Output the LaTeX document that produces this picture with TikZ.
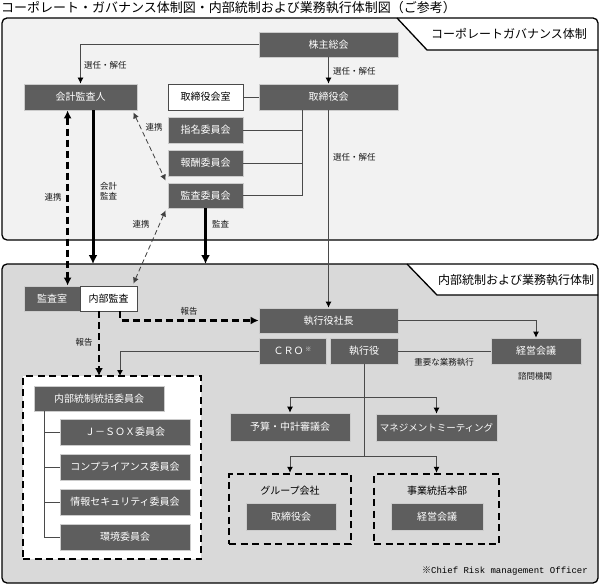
\documentclass[tikz,border=0pt]{standalone}
\usepackage{fontspec}
\setmainfont{Noto Sans CJK JP}
\newfontfamily\monofont{Liberation Mono}
\usepackage{tikz}
\usetikzlibrary{arrows.meta}
\definecolor{boxgray}{HTML}{5E5E5E}
\definecolor{topbg}{HTML}{F2F2F2}
\definecolor{lowbg}{HTML}{D9D9D9}
\definecolor{linegray}{HTML}{4A4A4A}
\tikzstyle{kbox}=[
        rectangle,
        draw=black!20,
        line width=0.8pt,
        fill=boxgray,
        text=white,
        inner sep=0pt,
        font=\fontsize{10}{12}\selectfont
]
\tikzstyle{wbox}=[rectangle,draw=linegray,line width=0.8pt,fill=white,text=black,inner sep=0pt,font=\fontsize{10}{12}\selectfont]
\tikzstyle{lbl}=[inner sep=0pt,text=black!90,font=\fontsize{8.5}{10}\selectfont]
\tikzstyle{ptitle}=[inner sep=0pt,font=\fontsize{12}{14}\selectfont]
\tikzstyle{ligne}=[draw=linegray,line width=0.8pt]
\tikzstyle{suite}=[-{Latex[length=6pt,width=6pt,color=black]},draw=linegray,line width=0.8pt]
\tikzstyle{audit}=[-{Latex[length=9pt,width=9pt]},line width=3pt]
\tikzstyle{renkei}=[{Latex[length=6pt,width=6pt]}-{Latex[length=6pt,width=6pt]},draw=black!75,line width=0.8pt,dash pattern=on 5pt off 3pt]
\tikzstyle{renkeib}=[{Latex[length=8pt,width=8pt]}-{Latex[length=8pt,width=8pt]},line width=2.5pt,dash pattern=on 7pt off 4pt]
\tikzstyle{hokoku}=[-{Latex[length=8pt,width=8pt]},line width=2.5pt,dash pattern=on 7pt off 4pt]
\tikzstyle{groupe}=[draw,line width=2.5pt,dash pattern=on 7pt off 4.5pt,inner sep=0pt]
\begin{document}
\begin{tikzpicture}[x=1pt,y=-1pt]
\useasboundingbox (0,0) rectangle (601,585);
\node[anchor=west,inner sep=0pt,font=\fontsize{13}{15}\selectfont] (titre) at (1,8) {コーポレート・ガバナンス体制図・内部統制および業務執行体制図（ご参考）};
%panneaux
\fill[topbg,rounded corners=5pt] (2,18) rectangle (598,240);
\fill[white] (397,18) -- (427,50) -- (598,50) -- (598,18) -- cycle;
\draw[line width=1.3pt,rounded corners=5pt] (2,18) rectangle (598,240);
\draw[line width=1.3pt] (397,18) -- (427,50) -- (598,50);
\node[ptitle] (gouv) at (509,34) {コーポレートガバナンス体制};
\fill[lowbg,rounded corners=5pt] (2,264) rectangle (598,583);
\fill[white] (407,264) -- (437,295) -- (598,295) -- (598,264) -- cycle;
\draw[line width=1.3pt,rounded corners=5pt] (2,264) rectangle (598,583);
\draw[line width=1.3pt] (407,264) -- (437,295) -- (598,295);
\node[ptitle] (interne) at (516,280) {内部統制および業務執行体制};
%gouvernance
\node[kbox,minimum width=139pt,minimum height=25pt] (kabu) at (328.5,44.5) {株主総会};
\node[kbox,minimum width=139pt,minimum height=26pt] (tori) at (328.5,97) {取締役会};
\node[wbox,minimum width=75pt,minimum height=26pt] (torishitsu) at (205.5,97) {取締役会室};
\node[kbox,minimum width=75pt,minimum height=26pt] (shimei) at (205.5,130) {指名委員会};
\node[kbox,minimum width=75pt,minimum height=26pt] (hoshu) at (205.5,163) {報酬委員会};
\node[kbox,minimum width=75pt,minimum height=25pt] (kansaiin) at (205.5,195.5) {監査委員会};
\node[kbox,minimum width=113pt,minimum height=26pt] (kaikei) at (80.5,97) {会計監査人};
%controle interne
\node[kbox,minimum width=56pt,minimum height=25pt] (kansashitsu) at (52,298.5) {監査室};
\node[wbox,minimum width=57pt,minimum height=25pt] (naibu) at (108.5,298.5) {内部監査};
\node[kbox,minimum width=139pt,minimum height=25pt] (shacho) at (328.5,320.5) {執行役社長};
\node[kbox,minimum width=67pt,minimum height=26pt] (cro) at (292.5,351) {ＣＲＯ\,\raisebox{3pt}{\fontsize{6}{6}\selectfont ※}};
\node[kbox,minimum width=68pt,minimum height=26pt] (shikko) at (364,351) {執行役};
\node[kbox,minimum width=90pt,minimum height=26pt] (keiei) at (536,351) {経営会議};
\node[lbl] (shimon) at (535,376) {諮問機関};
\node[groupe,fill=white,minimum width=178pt,minimum height=183pt] (tosei) at (112,467.5) {};
\node[kbox,minimum width=130pt,minimum height=25pt] (tokatsu) at (99,398.5) {内部統制統括委員会};
\node[kbox,minimum width=130pt,minimum height=26pt] (jsox) at (125,432) {Ｊ－ＳＯＸ委員会};
\node[kbox,minimum width=130pt,minimum height=26pt] (compl) at (125,467) {コンプライアンス委員会};
\node[kbox,minimum width=130pt,minimum height=26pt] (joho) at (125,502) {情報セキュリティ委員会};
\node[kbox,minimum width=130pt,minimum height=26pt] (kankyo) at (125,537) {環境委員会};
\node[kbox,minimum width=120pt,minimum height=28pt] (yosan) at (290,427) {予算・中計審議会};
\node[kbox,minimum width=121pt,minimum height=27pt,font=\fontsize{9.5}{11}\selectfont] (mgmt) at (436.5,427.5) {マネジメントミーティング};
\node[groupe,minimum width=122pt,minimum height=70pt] (groupe) at (290,509) {};
\node[inner sep=0pt,font=\fontsize{10}{12}\selectfont] (groupet) at (290,491) {グループ会社};
\node[kbox,minimum width=90pt,minimum height=27pt] (gtori) at (291,516.5) {取締役会};
\node[groupe,minimum width=125pt,minimum height=70pt] (jigyo) at (436.5,509) {};
\node[inner sep=0pt,font=\fontsize{10}{12}\selectfont] (jigyot) at (437,491) {事業統括本部};
\node[kbox,minimum width=92pt,minimum height=27pt] (jkeiei) at (437,516.5) {経営会議};
\node[anchor=east,inner sep=0pt,font=\fontsize{9}{11}\selectfont] (note) at (588,571) {※{\monofont Chief Risk management Officer}};
%coordonnees
\coordinate (c1) at (302,196);
\coordinate (kaud) at (93,264);
\coordinate (saud) at (205.5,264);
\coordinate (d1) at (99,376);
\coordinate (d2) at (120,376);
\coordinate (t1) at (44,537);
\coordinate (b1) at (364,397);
\coordinate (b2) at (364,456);
%fleches
\draw[suite] (kabu.west) -| (kaikei.north);
\draw[suite] (kabu.south) -- (tori.north);
\draw[ligne] (torishitsu.east) -- (tori.west);
\draw[ligne] (tori.south -| c1) -- (c1);
\foreach \n in {shimei,hoshu,kansaiin}
  \draw[ligne] (\n.east) -- (\n.east -| c1);
\draw[suite] (tori.south) -- (shacho.north);
\draw[audit] (kaikei.south -| kaud) -- (kaud);
\draw[audit] (kansaiin.south) -- (saud);
\draw[renkeib] ([xshift=44pt]kaikei.south west) -- ([xshift=44pt]kansashitsu.north west);
\draw[renkei] ([shift={(-4,2)}]kaikei.south east) -- ([shift={(-2,-2)}]kansaiin.north west);
\draw[renkei] ([shift={(-2,2)}]kansaiin.south west) -- ([shift={(-4,-2)}]naibu.north east);
\draw[hokoku] (naibu.south -| d2) |- (shacho.west);
\draw[hokoku] (naibu.south -| d1) -- (d1);
\draw[suite] (cro.west) -| (d2);
\draw[suite] (shacho.east) -| (keiei.north);
\draw[ligne] (shikko.east) -- (keiei.west);
\draw[ligne] (shikko.south) -- (b2);
\draw[suite] (b1) -| (yosan.north);
\draw[suite] (b1) -| (mgmt.north);
\draw[suite] (b2) -| (groupe.north);
\draw[suite] (b2) -| (jigyo.north);
\draw[ligne] (tokatsu.south -| t1) -- (t1);
\foreach \n in {jsox,compl,joho,kankyo}
  \draw[ligne] (\n.west -| t1) -- (\n.west);
%etiquettes
\node[lbl,anchor=west] (sen1) at (84,65) {選任・解任};
\node[lbl,anchor=west] (sen2) at (333,71) {選任・解任};
\node[lbl,anchor=west] (sen3) at (333,157) {選任・解任};
\node[lbl,anchor=west,align=left] (kaikeil) at (100,191) {会計\\監査};
\node[lbl] (ren1) at (53,197) {連携};
\node[lbl] (ren2) at (154,127) {連携};
\node[lbl] (ren3) at (141,224) {連携};
\node[lbl,anchor=west] (kansal) at (212,224) {監査};
\node[lbl] (hok1) at (189,311) {報告};
\node[lbl] (hok2) at (84,342) {報告};
\node[lbl] (juyo) at (444,362) {重要な業務執行};
\end{tikzpicture}
\end{document}
